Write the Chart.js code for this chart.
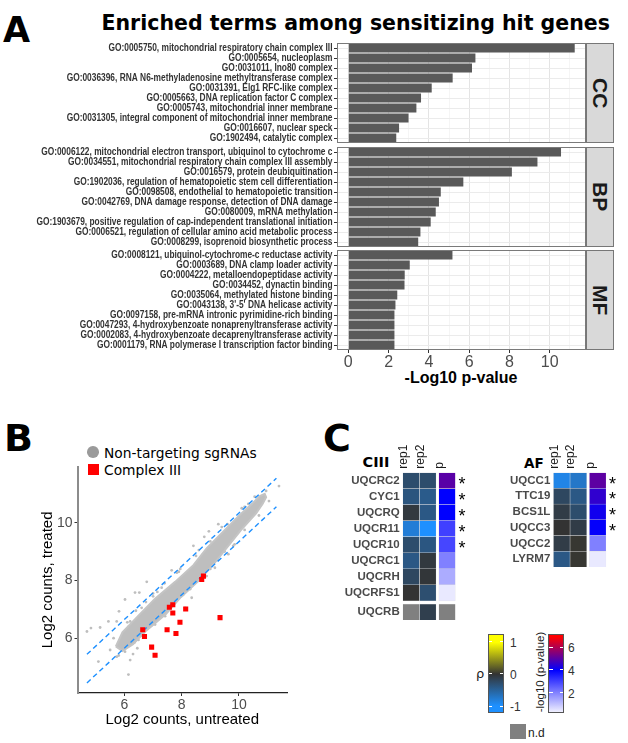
<!DOCTYPE html>
<html><head><meta charset="utf-8">
<script src="https://cdn.jsdelivr.net/npm/chart.js@4.4.1/dist/chart.umd.min.js"></script>
<style>
html,body{margin:0;padding:0;background:#fff;}
#root{position:relative;width:628px;height:743px;overflow:hidden;font-family:'Liberation Sans',Arial,sans-serif;}
canvas{position:absolute;}
.abs{position:absolute;white-space:nowrap;line-height:1;}
.strip{position:absolute;box-sizing:border-box;background:#d9d9d9;border:1px solid #777;display:flex;align-items:center;justify-content:center;font:bold 21px 'Liberation Sans',Arial,sans-serif;color:#1a1a1a;}
.strip span{writing-mode:vertical-rl;}
</style></head><body><div id="root">
<div class="abs" style="left:3px;top:10.4px;font:bold 35px 'DejaVu Sans',sans-serif;">A</div>
<div class="abs" style="left:101.5px;top:10.7px;font:bold 20.5px 'DejaVu Sans',sans-serif;">Enriched terms among sensitizing hit genes</div>
<div class="abs" style="left:461px;top:369px;transform:translateX(-50%);font:bold 16px 'Liberation Sans',Arial,sans-serif;">-Log10 p-value</div>
<div class="strip" style="left:586px;top:43px;width:28px;height:100px;"><span>CC</span></div>
<div class="strip" style="left:586px;top:147px;width:28px;height:100px;"><span>BP</span></div>
<div class="strip" style="left:586px;top:250px;width:28px;height:100px;"><span>MF</span></div>

<div class="abs" style="left:4px;top:416px;font:bold 38px 'DejaVu Sans',sans-serif;">B</div>
<div class="abs" style="left:87.2px;top:446.2px;width:11.6px;height:11.6px;border-radius:50%;background:#9a9a9a;"></div>
<div class="abs" style="left:104px;top:445.4px;font:13.8px 'DejaVu Sans',sans-serif;">Non-targeting sgRNAs</div>
<div class="abs" style="left:87.5px;top:463.5px;width:11px;height:11px;background:#ff0000;"></div>
<div class="abs" style="left:104px;top:462.4px;font:13.8px 'DejaVu Sans',sans-serif;">Complex III</div>

<div class="abs" style="left:323px;top:416px;font:bold 38px 'DejaVu Sans',sans-serif;">C</div>
<div class="abs" style="left:362.5px;top:454px;font:bold 14.5px 'DejaVu Sans',sans-serif;">CIII</div>
<div class="abs" style="left:524px;top:454.6px;font:bold 13.5px 'DejaVu Sans',sans-serif;">AF</div>
</div>
<script>
// ---------------- DATA ----------------
// Panel A
const CC_TERMS = [
 "GO:0005750, mitochondrial respiratory chain complex III",
 "GO:0005654, nucleoplasm",
 "GO:0031011, Ino80 complex",
 "GO:0036396, RNA N6-methyladenosine methyltransferase complex",
 "GO:0031391, Elg1 RFC-like complex",
 "GO:0005663, DNA replication factor C complex",
 "GO:0005743, mitochondrial inner membrane",
 "GO:0031305, integral component of mitochondrial inner membrane",
 "GO:0016607, nuclear speck",
 "GO:1902494, catalytic complex"];
const CC_VALUES = [11.24, 6.31, 6.14, 5.18, 4.14, 3.61, 3.38, 2.99, 2.52, 2.38];
const BP_TERMS = [
 "GO:0006122, mitochondrial electron transport, ubiquinol to cytochrome c",
 "GO:0034551, mitochondrial respiratory chain complex III assembly",
 "GO:0016579, protein deubiquitination",
 "GO:1902036, regulation of hematopoietic stem cell differentiation",
 "GO:0098508, endothelial to hematopoietic transition",
 "GO:0042769, DNA damage response, detection of DNA damage",
 "GO:0080009, mRNA methylation",
 "GO:1903679, positive regulation of cap-independent translational initiation",
 "GO:0006521, regulation of cellular amino acid metabolic process",
 "GO:0008299, isoprenoid biosynthetic process"];
const BP_VALUES = [10.56, 9.39, 8.12, 5.71, 4.59, 4.50, 4.34, 4.09, 3.58, 3.47];
const MF_TERMS = [
 "GO:0008121, ubiquinol-cytochrome-c reductase activity",
 "GO:0003689, DNA clamp loader activity",
 "GO:0004222, metalloendopeptidase activity",
 "GO:0034452, dynactin binding",
 "GO:0035064, methylated histone binding",
 "GO:0043138, 3'-5' DNA helicase activity",
 "GO:0097158, pre-mRNA intronic pyrimidine-rich binding",
 "GO:0047293, 4-hydroxybenzoate nonaprenyltransferase activity",
 "GO:0002083, 4-hydroxybenzoate decaprenyltransferase activity",
 "GO:0001179, RNA polymerase I transcription factor binding"];
const MF_VALUES = [5.17, 3.05, 2.80, 2.79, 2.43, 2.34, 2.29, 2.29, 2.29, 2.29];
const A_MAJOR_TICKS = [0, 2, 4, 6, 8, 10];
const A_MINOR_TICKS = [1, 3, 5, 7, 9, 11];

// Panel B
const B_TICKS = [6, 8, 10];
const NT_X = [4.69,4.83,5.15,5.44,5.09,6.14,5.81,6.02,6.37,6.52,6.78,7.65,7.83,8.41,8.79,9.28,8.35,8.87,9.16,9.63,8.12,5.62,5.50,5.73,6.02,6.20,6.49,11.40,10.79,10.65,10.33,7.19,7.42,7.07,5.73,6.20,
  6.10,6.60,7.30,7.95,8.60,9.40,10.10,10.55,6.35,6.95,7.60,8.30,9.00,9.80,5.95,6.40,10.95,11.05,7.00,8.95,
  7.00,7.40,7.90,8.50,9.00,9.60,10.20,7.30,7.80,8.30,8.90,9.50,10.20,10.70,5.80,6.00,6.30,5.90,6.60,6.45,6.15,6.75,7.15,8.05,9.25,9.85];
const NT_Y = [6.23,6.35,6.37,6.58,5.19,4.74,6.93,7.34,7.58,7.58,7.95,8.35,8.27,9.20,9.51,9.95,7.40,8.15,8.44,8.91,7.05,6.00,5.59,5.36,5.53,5.24,5.94,11.27,10.88,10.56,10.65,6.70,6.76,6.47,6.58,6.58,
  6.55,7.05,7.75,8.40,9.05,9.85,10.50,10.90,5.85,6.45,7.10,7.70,8.40,9.20,6.05,6.95,11.10,10.75,7.45,9.70,
  7.55,7.90,8.30,8.85,9.35,9.95,10.55,6.90,7.35,7.85,8.40,9.00,9.75,10.25,5.40,5.70,5.45,5.95,6.10,5.65,6.40,7.25,7.60,7.50,8.70,9.25];
const BAND_X = [5.70,5.93,6.49,7.07,7.77,8.41,8.87,9.45,10.03,10.50,10.73,10.90,10.95,10.83,10.60,10.07,9.60,9.13,8.60,7.97,7.45,6.76,6.30,5.93,5.70];
const BAND_Y = [5.71,6.20,6.78,7.37,7.95,8.53,9.11,9.69,10.27,10.69,10.92,11.00,10.88,10.66,10.32,9.74,9.16,8.58,8.00,7.42,6.84,6.26,5.79,5.55,5.71];
const CIII_X = [8.76,8.70,7.69,7.57,7.69,8.14,9.34,7.94,6.64,7.49,7.80,6.70,6.95,7.07];
const CIII_Y = [8.15,8.03,7.16,7.07,6.87,7.01,6.71,6.55,6.29,6.29,6.16,6.06,5.69,5.41];
const UPPER_X = [4.69, 11.31], UPPER_Y = [5.44, 11.54];
const LOWER_X = [4.69, 11.31], LOWER_Y = [4.45, 10.55];

// Panel C
const HEAT_COLS = ["rep1", "rep2", "p"];
const CIII_GENES = ["UQCRC2","CYC1","UQCRQ","UQCR11","UQCR10","UQCRC1","UQCRH","UQCRFS1","UQCRB"];
const CIII_REP1 = [-0.28,-0.37,-0.06,-0.80,-0.28,-0.40,-0.22,0.00,null];
const CIII_REP2 = [-0.28,-0.43,-0.40,-1.00,-0.38,-0.06,-0.03,-0.30,-0.13];
const CIII_P    = [5.05,4.00,4.00,3.00,2.90,2.00,1.30,0.35,null];
const CIII_SIG  = [true,true,true,true,true,false,false,false,false];
const AF_GENES = ["UQCC1","TTC19","BCS1L","UQCC3","UQCC2","LYRM7"];
const AF_REP1 = [-0.88,-0.22,-0.10,0.00,-0.10,-0.40];
const AF_REP2 = [-0.73,-0.40,-0.28,-0.10,0.02,0.02];
const AF_P    = [5.10,4.57,4.20,4.05,2.00,0.35];
const AF_SIG  = [true,true,true,true,false,false];
const RHO_TICKS = [1, 0, -1];
const P_TICKS = [6, 4, 2];

// ---------------- SETUP ----------------
Chart.defaults.animation = false;
Chart.defaults.responsive = false;
Chart.defaults.devicePixelRatio = 1;
Chart.defaults.font.family = "'Liberation Sans', Arial, sans-serif";
Chart.defaults.plugins.legend.display = false;
Chart.defaults.plugins.tooltip.enabled = false;
const root = document.getElementById('root');

function mkCanvas(left, top, w, h) {
  const c = document.createElement('canvas');
  c.width = w; c.height = h;
  c.style.left = left + 'px'; c.style.top = top + 'px';
  c.style.width = w + 'px'; c.style.height = h + 'px';
  root.appendChild(c);
  return c;
}
function div(style, text) {
  const d = document.createElement('div');
  d.className = 'abs';
  d.setAttribute('style', style);
  if (text != null) d.textContent = text;
  root.appendChild(d);
  return d;
}
const zip = (xs, ys) => xs.map((x, i) => ({x, y: ys[i]}));

const panelBox = {
  id: 'panelBox',
  afterDraw(chart) {
    const {ctx, chartArea: a} = chart;
    ctx.save();
    ctx.strokeStyle = '#7a7a7a';
    ctx.lineWidth = 1;
    ctx.strokeRect(a.left + 0.5, a.top + 0.5, a.right - a.left - 1, a.bottom - a.top - 1);
    ctx.restore();
  }
};

// ---------------- PANEL A ----------------
// term labels are drawn with a narrow (horizontally compressed) face, like the reference
const TERM_FONT = "bold 10px 'Liberation Sans', Arial, sans-serif";
const LABEL_MAX_W = 296;
const measureCtx = document.createElement('canvas').getContext('2d');
measureCtx.font = TERM_FONT;
const longestW = Math.max(...CC_TERMS.concat(BP_TERMS, MF_TERMS).map(t => measureCtx.measureText(t).width));
const TERM_SX = Math.min(1, LABEL_MAX_W / longestW);

const narrowLabels = {
  id: 'narrowLabels',
  afterDraw(chart) {
    const {ctx, chartArea: a, scales: {y}} = chart;
    ctx.save();
    ctx.font = TERM_FONT;
    ctx.fillStyle = '#333';
    ctx.textAlign = 'right';
    ctx.textBaseline = 'middle';
    chart.data.labels.forEach((lab, i) => {
      ctx.save();
      ctx.translate(a.left - 4.5, y.getPixelForTick(i) + 0.5);
      ctx.scale(TERM_SX, 1);
      ctx.fillText(lab, 0, 0);
      ctx.restore();
    });
    ctx.restore();
  }
};

const isMajor = c => c.tick && A_MAJOR_TICKS.includes(c.tick.value);
function facet(top, h, labels, values, showX) {
  const cv = mkCanvas(0, top, 586, h);
  return new Chart(cv, {
    type: 'bar',
    data: {labels, datasets: [{data: values, backgroundColor: '#595959', barPercentage: 0.88, categoryPercentage: 1}]},
    options: {
      indexAxis: 'y',
      layout: {padding: 0},
      scales: {
        x: {
          type: 'linear', min: -0.562, max: 11.8, offset: false,
          afterBuildTicks: s => { s.ticks = A_MAJOR_TICKS.concat(A_MINOR_TICKS).sort((a, b) => a - b).map(v => ({value: v})); },
          afterFit: s => { s.height = showX ? 24 : 0; },
          border: {display: false},
          grid: {
            color: c => isMajor(c) ? '#e4e4e4' : '#f2f2f2',
            lineWidth: c => isMajor(c) ? 1 : 0.8,
            drawTicks: showX, tickLength: 3,
            tickColor: c => isMajor(c) ? '#333' : 'rgba(0,0,0,0)'
          },
          ticks: {
            display: showX, autoSkip: false, maxRotation: 0, padding: 0,
            color: '#4d4d4d', font: {size: 16},
            callback: v => A_MAJOR_TICKS.includes(v) ? String(v) : ''
          }
        },
        y: {
          type: 'category', offset: true,
          afterFit: s => { s.width = 337; },
          border: {display: false},
          grid: {offset: false, color: '#ebebeb', lineWidth: 1, tickLength: 3, tickColor: '#333'},
          ticks: {display: false, autoSkip: false}
        }
      }
    },
    plugins: [panelBox, narrowLabels]
  });
}
facet(43, 100, CC_TERMS, CC_VALUES, false);
facet(147, 100, BP_TERMS, BP_VALUES, false);
facet(250, 124, MF_TERMS, MF_VALUES, true);

// ---------------- PANEL B ----------------
new Chart(mkCanvas(0, 440, 300, 303), {
  type: 'scatter',
  data: {datasets: [
    {label: 'Complex III', data: zip(CIII_X, CIII_Y), pointStyle: 'rect', pointRadius: 3.6, backgroundColor: '#ff0000', borderWidth: 0, order: 0},
    {data: zip(UPPER_X, UPPER_Y), showLine: true, borderColor: '#1e90ff', borderWidth: 1.4, borderDash: [5, 3.5], pointRadius: 0, order: 1},
    {data: zip(LOWER_X, LOWER_Y), showLine: true, borderColor: '#1e90ff', borderWidth: 1.4, borderDash: [5, 3.5], pointRadius: 0, order: 1},
    {data: zip(BAND_X, BAND_Y), showLine: true, fill: 'shape', backgroundColor: '#bebebe', borderColor: '#c4c4c4', borderWidth: 2, pointRadius: 0, tension: 0, order: 2},
    {label: 'Non-targeting sgRNAs', data: zip(NT_X, NT_Y), pointRadius: 1.4, backgroundColor: '#bebebe', borderWidth: 0, order: 3}
  ]},
  options: {
    layout: {padding: {top: 26.7, right: 13, left: 0, bottom: 0}},
    scales: {
      x: {
        type: 'linear', min: 4.36, max: 11.68,
        afterBuildTicks: s => { s.ticks = B_TICKS.map(v => ({value: v})); },
        afterFit: s => { s.height = 50; },
        border: {display: true, color: '#222', width: 1.3},
        grid: {drawOnChartArea: false, tickLength: 3, tickColor: '#333'},
        ticks: {color: '#4d4d4d', font: {size: 14}, padding: 1, maxRotation: 0},
        title: {display: true, text: 'Log2 counts, untreated', color: '#000', font: {size: 15}, padding: {top: 0, bottom: 14}}
      },
      y: {
        type: 'linear', min: 4.1, max: 11.94,
        afterBuildTicks: s => { s.ticks = B_TICKS.map(v => ({value: v})); },
        afterFit: s => { s.width = 77.5; },
        border: {display: true, color: '#8c8c8c', width: 2},
        grid: {drawOnChartArea: false, tickLength: 3, tickColor: '#333'},
        ticks: {color: '#4d4d4d', font: {size: 14}, padding: 2},
        title: {display: true, text: 'Log2 counts, treated', color: '#000', font: {size: 15}, padding: {top: 38.5, bottom: 0}}
      }
    }
  }
});

// ---------------- PANEL C ----------------
function mix(c1, c2, t) { return c1.map((v, i) => Math.round(v + (c2[i] - v) * t)); }
const rgb = a => `rgb(${a[0]},${a[1]},${a[2]})`;
const C_MID = [51, 51, 51], C_LOW = [30, 144, 255], C_HIGH = [255, 255, 0];
function rhoColor(v) {
  if (v == null) return '#808080';
  const t = Math.min(1, Math.abs(v));
  return rgb(v < 0 ? mix(C_MID, C_LOW, t) : mix(C_MID, C_HIGH, t));
}
const P_WHITE = [255, 255, 255], P_BLUE = [0, 0, 255], P_RED = [255, 0, 0];
function pColor(v) {
  if (v == null) return '#808080';
  if (v <= 4) return rgb(mix(P_WHITE, P_BLUE, Math.max(0, v) / 4));
  return rgb(mix(P_BLUE, P_RED, Math.min(1, (v - 4) / 3)));
}
const COL_POS = [0.5, 1.5, 2.66];
const starPlugin = {
  id: 'stars',
  afterDatasetsDraw(chart, args, opts) {
    const {ctx, chartArea: a, scales: {y}} = chart;
    ctx.save();
    ctx.fillStyle = '#000';
    ctx.font = "18px 'Liberation Sans', Arial, sans-serif";
    ctx.textAlign = 'center';
    ctx.textBaseline = 'alphabetic';
    opts.sig.forEach((s, i) => {
      if (s) ctx.fillText('*', a.right + 6.5, y.getPixelForValue(opts.starts[i] + 0.5) + 9);
    });
    ctx.restore();
  }
};
function heatmap(cfg) {
  const starts = cfg.genes.map((g, i) => i + (cfg.gapBefore != null && i >= cfg.gapBefore ? 0.2 : 0));
  const ymax = starts[starts.length - 1] + 1;
  const col = (vals, j, fn) => ({
    data: vals.map((v, i) => ({x: COL_POS[j], y: [starts[i], starts[i] + 1]})),
    backgroundColor: vals.map(fn),
    borderColor: 'rgba(225,225,225,0.85)', borderWidth: 0.5, borderSkipped: false,
    barThickness: 16.7, grouped: false
  });
  new Chart(mkCanvas(cfg.left, cfg.top, cfg.w, cfg.h), {
    type: 'bar',
    data: {datasets: [col(cfg.rep1, 0, rhoColor), col(cfg.rep2, 1, rhoColor), col(cfg.p, 2, pColor)]},
    options: {
      layout: {padding: {top: 0, right: cfg.padR, bottom: cfg.padB, left: 0}},
      plugins: {stars: {sig: cfg.sig, starts}},
      scales: {
        x: {
          type: 'linear', position: 'top', min: 0, max: 3.16, offset: false,
          afterBuildTicks: s => { s.ticks = COL_POS.map(v => ({value: v})); },
          afterFit: s => { s.height = cfg.headH; },
          border: {display: false},
          grid: {display: false, drawTicks: false},
          ticks: {autoSkip: false, minRotation: 90, maxRotation: 90, padding: 4, labelOffset: 7.2, color: '#1a1a1a', font: {size: 12},
                  callback: (v, i) => HEAT_COLS[i]}
        },
        y: {
          type: 'linear', reverse: true, min: 0, max: ymax,
          afterBuildTicks: s => { s.ticks = starts.map(v => ({value: v + 0.5})); },
          afterFit: s => { s.width = cfg.axisW; },
          border: {display: false},
          grid: {display: false, drawTicks: false},
          ticks: {autoSkip: false, padding: 3, color: '#4a4a4a', font: {size: 11.5, weight: 'bold'},
                  callback: (v, i) => cfg.genes[i]}
        }
      }
    },
    plugins: [starPlugin]
  });
}
heatmap({left: 330, top: 440, w: 145, h: 190, axisW: 72.7, headH: 32.7, padR: 19.5, padB: 3.7,
  genes: CIII_GENES, rep1: CIII_REP1, rep2: CIII_REP2, p: CIII_P, sig: CIII_SIG, gapBefore: 8});
heatmap({left: 480, top: 440, w: 148, h: 137, axisW: 73.3, headH: 32.7, padR: 21.9, padB: 4.1,
  genes: AF_GENES, rep1: AF_REP1, rep2: AF_REP2, p: AF_P, sig: AF_SIG, gapBefore: null});

// colour bars (legends)
function colorbar(left, top, w, h, vTop, vBot, colorFn, stopsVals, ticks, labelLeft) {
  const pos = v => (vTop - v) / (vTop - vBot);
  const stops = stopsVals.map(v => `${colorFn(v)} ${(pos(v) * 100).toFixed(1)}%`).join(',');
  div(`left:${left}px;top:${top}px;width:${w}px;height:${h}px;box-sizing:border-box;border:1px solid #555;background:linear-gradient(to bottom,${stops});`);
  ticks.forEach(t => {
    const y = top + pos(t) * h;
    div(`left:${left + 1}px;top:${y - 0.5}px;width:3.5px;height:1px;background:#fff;`);
    div(`left:${left + w - 4.5}px;top:${y - 0.5}px;width:3.5px;height:1px;background:#fff;`);
    div(`left:${labelLeft}px;top:${y - 6.2}px;font:12px 'Liberation Sans',Arial,sans-serif;color:#333;`, String(t));
  });
}
colorbar(487.7, 634, 16.7, 78.7, 1.24, -1.2, rhoColor, [1.24, 1, 0.6, 0.3, 0, -0.3, -0.6, -1, -1.2], RHO_TICKS, 510);
colorbar(548.3, 634, 16, 78.7, 7.17, 0.24, pColor, [7.17, 7, 6, 5, 4, 3, 2, 1, 0.24], P_TICKS, 568);
div("left:476px;top:666px;font:13px 'DejaVu Sans',sans-serif;color:#222;", 'ρ');
div("left:540px;top:672px;transform:translate(-50%,-50%) rotate(-90deg);font:11.5px 'Liberation Sans',Arial,sans-serif;color:#222;", '-log10 (p-value)');
div("left:510px;top:724.3px;width:16px;height:15px;background:#808080;");
div("left:528px;top:726px;font:12px 'Liberation Sans',Arial,sans-serif;color:#222;", 'n.d');
</script>
</body></html>
